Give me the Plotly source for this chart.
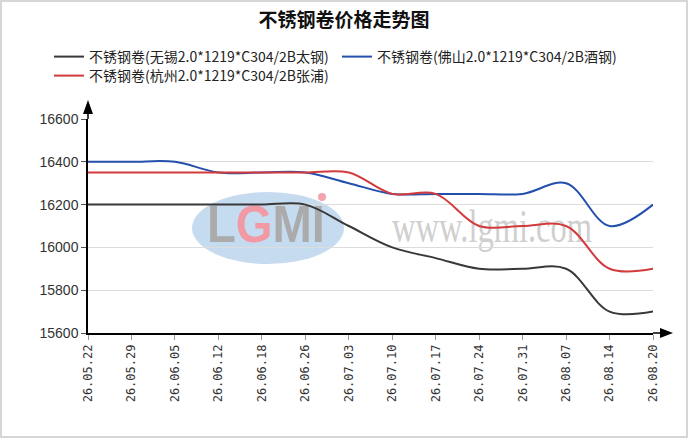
import base64
import plotly.graph_objects as go

# weekly quotes, stainless coil 2.0*1219 C304/2B
dates = ['26.05.22', '26.05.29', '26.06.05', '26.06.12', '26.06.18', '26.06.26', '26.07.03',
         '26.07.10', '26.07.17', '26.07.24', '26.07.31', '26.08.07', '26.08.14', '26.08.20']
wuxi = [16200, 16200, 16200, 16200, 16200, 16200, 16100,
        16000, 15950, 15900, 15900, 15900, 15700, 15700]
foshan = [16400, 16400, 16400, 16350, 16350, 16350, 16300,
          16250, 16250, 16250, 16250, 16300, 16100, 16200]
hangzhou = [16350, 16350, 16350, 16350, 16350, 16350, 16350,
            16250, 16250, 16100, 16100, 16100, 15900, 15900]

names = ['不锈钢卷(无锡2.0*1219*C304/2B太钢)',
         '不锈钢卷(佛山2.0*1219*C304/2B酒钢)',
         '不锈钢卷(杭州2.0*1219*C304/2B张浦)']
colors = ['#383838', '#2450ac', '#d23a3c']
legends = ['legend', 'legend', 'legend2']

W, H = 688, 438
L, R, T, B = 88, 653, 119, 333   # plot area in pixels


def px(x):
    return (x - L) / (R - L)


def py(y):
    return (B - y) / (B - T)


# watermark (logo + site name) as an svg laid under the traces
svg = f"""<svg xmlns='http://www.w3.org/2000/svg' width='{W}' height='{H}' viewBox='0 0 {W} {H}'>
<ellipse cx='268' cy='228' rx='76' ry='36' fill='#b3cfea' fill-opacity='0.75'/>
<ellipse cx='268' cy='228' rx='72' ry='32' fill='#c4dbf0' fill-opacity='0.6'/>
<circle cx='322' cy='197' r='4' fill='#f2a3ab'/>
<text x='207' y='242' font-family='Liberation Sans Narrow, Liberation Sans' font-weight='bold' font-size='52'
 textLength='118' lengthAdjust='spacingAndGlyphs' fill='#ababab'>L<tspan fill='#f29aa4'>G</tspan>MI</text>
<text x='392' y='242' font-family='Liberation Serif' font-size='46'
 textLength='200' lengthAdjust='spacingAndGlyphs' fill='#cfcfcf'>www.lgmi.com</text>
</svg>"""
src = 'data:image/svg+xml;base64,' + base64.b64encode(svg.encode()).decode()

fig = go.Figure()
for ys, name, c, lg in zip([wuxi, foshan, hangzhou], names, colors, legends):
    fig.add_trace(go.Scatter(x=dates, y=ys, name=name, mode='lines', legend=lg,
                             line=dict(color=c, width=2, shape='spline', smoothing=1)))

shapes = [
    # axis arrows
    dict(type='line', xref='paper', yref='paper', x0=0, x1=0, y0=1, y1=py(112),
         line=dict(color='black', width=1.5)),
    dict(type='path', xref='paper', yref='paper', fillcolor='black', line=dict(width=0),
         path=f'M {px(83)} {py(114)} L {px(88)} {py(100)} L {px(93)} {py(114)} Z'),
    dict(type='line', xref='paper', yref='paper', x0=1, x1=px(662), y0=0, y1=0,
         line=dict(color='black', width=1.5)),
    dict(type='path', xref='paper', yref='paper', fillcolor='black', line=dict(width=0),
         path=f'M {px(660)} {py(328)} L {px(673)} {py(333)} L {px(660)} {py(338)} Z'),
    # outer frame
    dict(type='rect', xref='paper', yref='paper', x0=px(1), x1=px(687), y0=py(437), y1=py(1),
         line=dict(color='#d6d6d6', width=2)),
]

leg_font = dict(family='Noto Sans CJK SC', size=14, color='#222')
fig.update_layout(
    width=W, height=H,
    margin=dict(l=L, r=W - R, t=T, b=H - B),
    paper_bgcolor='white', plot_bgcolor='rgba(0,0,0,0)',
    title=dict(text='<b>不锈钢卷价格走势图</b>', x=0.5, xref='container', xanchor='center',
               y=1 - 20 / H, yref='container', yanchor='middle',
               font=dict(family='Noto Sans CJK SC', size=19, color='#111')),
    legend=dict(orientation='h', x=px(49), y=py(41), xanchor='left', yanchor='top',
                entrywidth=243, entrywidthmode='pixels', traceorder='normal',
                bgcolor='rgba(0,0,0,0)', font=leg_font),
    legend2=dict(orientation='h', x=px(49), y=py(60), xanchor='left', yanchor='top',
                 bgcolor='rgba(0,0,0,0)', font=leg_font),
    shapes=shapes,
    images=[dict(source=src, xref='paper', yref='paper', x=px(0), y=py(0),
                 sizex=W / (R - L), sizey=H / (B - T), sizing='stretch',
                 xanchor='left', yanchor='top', layer='below')],
    showlegend=True,
)
fig.update_xaxes(type='category', range=[0, len(dates) - 1], automargin=False,
                 showline=True, linecolor='black', linewidth=1.5, showgrid=False,
                 ticks='outside', ticklen=5, tickcolor='#999', tickangle=-90,
                 tickfont=dict(family='DejaVu Sans Mono', size=12, color='#333'))
fig.update_yaxes(range=[15600, 16600], dtick=200, tickformat='d', automargin=False,
                 showline=True, linecolor='black', linewidth=1.5,
                 showgrid=True, gridcolor='#dcdcdc', gridwidth=1, zeroline=False,
                 ticks='outside', ticklen=5, tickcolor='#555',
                 tickfont=dict(family='Liberation Sans', size=14, color='#333'))

fig.write_html('out.html', config={'displayModeBar': False},
               post_script="document.body.style.margin='0';")
